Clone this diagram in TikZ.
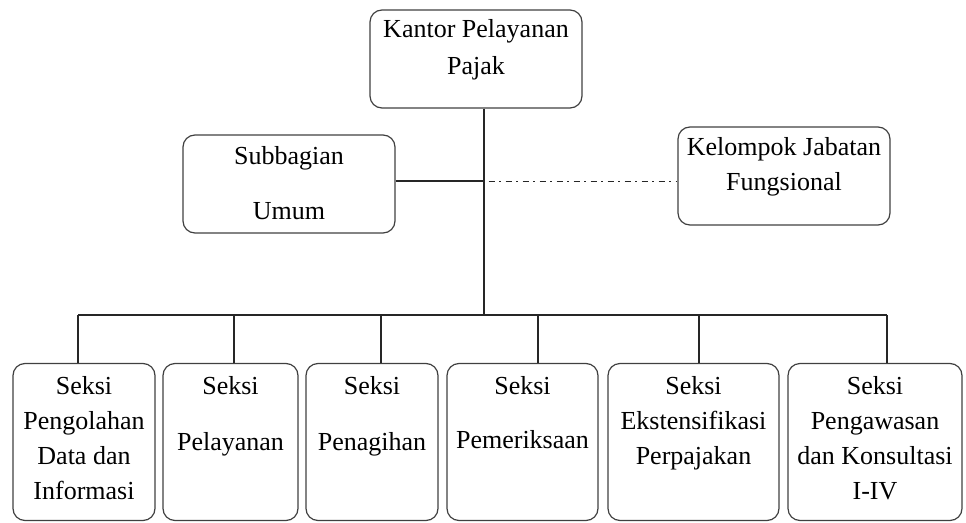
\documentclass[tikz,border=0pt]{standalone}
\usepackage{fontspec}
\setmainfont{Liberation Serif}
\begin{document}
\begin{tikzpicture}[x=1pt,y=-1pt,
  box/.style={draw=black!75, line width=1.2pt, rounded corners=12pt, inner sep=0pt},
  lbl/.style={anchor=north, inner sep=0pt, align=center, text=black,
              font=\fontsize{26}{35}\selectfont},
  conn/.style={draw=black!85, line width=1.2pt}]
\useasboundingbox (0,0) rectangle (966,522);

% boxes
\node[box, minimum width=212pt, minimum height=98pt] (kpp) at (476,59) {};
\node[box, minimum width=212pt, minimum height=98pt] (sub) at (289,184) {};
\node[box, minimum width=212pt, minimum height=98pt] (kjf) at (784,176) {};
\node[box, minimum width=142pt, minimum height=157pt] (b1) at (84,442) {};
\node[box, minimum width=135pt, minimum height=157pt] (b2) at (230.5,442) {};
\node[box, minimum width=132pt, minimum height=157pt] (b3) at (372,442) {};
\node[box, minimum width=151pt, minimum height=157pt] (b4) at (522.5,442) {};
\node[box, minimum width=171pt, minimum height=157pt] (b5) at (693.5,442) {};
\node[box, minimum width=174pt, minimum height=157pt] (b6) at (875,442) {};

% texts
\node[lbl, font=\fontsize{26}{37}\selectfont] (tkpp) at ([yshift=-10pt]kpp.north) {Kantor Pelayanan\\Pajak};
\node[lbl, font=\fontsize{26}{55}\selectfont] (tsub) at ([yshift=-12pt]sub.north) {Subbagian\\Umum};
\node[lbl] (tkjf) at ([yshift=-11pt]kjf.north) {Kelompok Jabatan\\Fungsional};
\node[lbl] (tb1) at ([yshift=-13pt]b1.north) {Seksi\\Pengolahan\\Data dan\\Informasi};
\node[lbl] (tb2) at ([yshift=-13pt]b2.north) {Seksi\\[21pt]Pelayanan};
\node[lbl] (tb3) at ([yshift=-13pt]b3.north) {Seksi\\[21pt]Penagihan};
\node[lbl] (tb4) at ([yshift=-13pt]b4.north) {Seksi\\[19pt]Pemeriksaan};
\node[lbl] (tb5) at ([yshift=-13pt]b5.north) {Seksi\\Ekstensifikasi\\Perpajakan};
\node[lbl] (tb6) at ([yshift=-13pt]b6.north) {Seksi\\Pengawasan\\dan Konsultasi\\I-IV};

% connectors
\coordinate (bus) at (484,315);
\coordinate (j) at (484,181);
\coordinate (busL) at (78,315);
\coordinate (busR) at (887,315);
\draw[conn] (kpp.south -| bus) -- (bus);
\draw[conn] (sub.east |- j) -- (j);
\draw[conn, line width=1pt, dash pattern=on 6pt off 4.5pt on 2pt off 4.5pt, dash phase=-4.5pt] (j) -- (kjf.west |- j);
\draw[conn] (busL) -- (busR);
\coordinate (d2) at (234,315);
\coordinate (d3) at (381,315);
\coordinate (d4) at (538,315);
\coordinate (d5) at (699,315);
\draw[conn] (busL) -- (busL |- b1.north);
\draw[conn] (d2) -- (d2 |- b2.north);
\draw[conn] (d3) -- (d3 |- b3.north);
\draw[conn] (d4) -- (d4 |- b4.north);
\draw[conn] (d5) -- (d5 |- b5.north);
\draw[conn] (busR) -- (busR |- b6.north);
\end{tikzpicture}
\end{document}
